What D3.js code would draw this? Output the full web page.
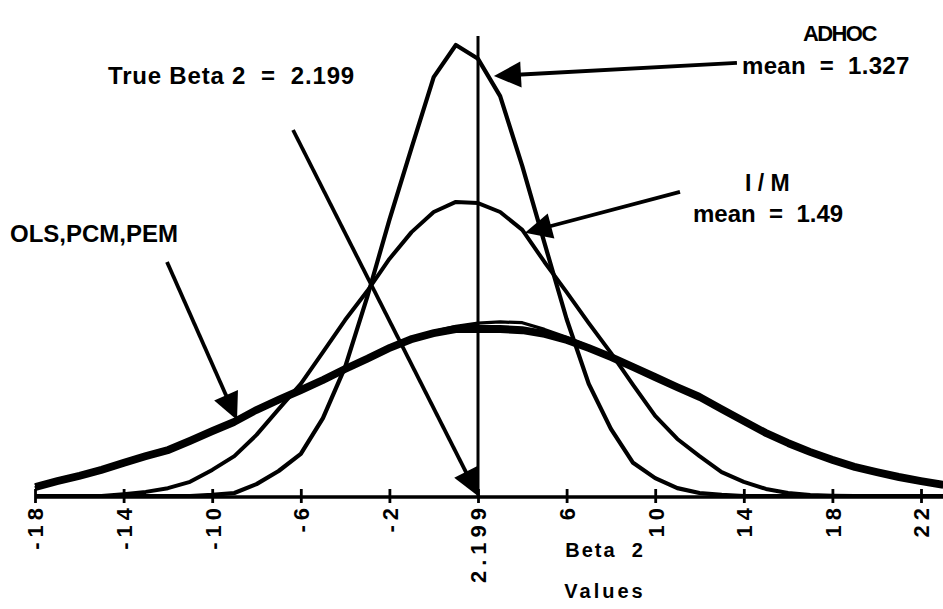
<!DOCTYPE html>
<html><head><meta charset="utf-8">
<script src="https://cdn.jsdelivr.net/npm/d3@7"></script>
<style>
html,body{margin:0;padding:0;background:#fff;}
svg{display:block;}
text{font-family:"Liberation Sans",Arial,Helvetica,sans-serif;font-weight:bold;fill:#000;white-space:pre;}
</style></head>
<body>
<svg id="chart" width="943" height="609"></svg>
<script>
// Beta 2 value categories (one per unit)
const categories = d3.range(-18, 24);
const tickValues = [-18, -14, -10, -6, -2, 2, 6, 10, 14, 18, 22];
const tickLabels = ["-18", "-14", "-10", "-6", "-2", "2.199", "6", "10", "14", "18", "22"];
const trueBeta = 2; // category labelled 2.199

// relative frequency for each category, -18 .. 23
const adhoc = [0,0,0,0,0,0,0,0,0.0003,0.0008,0.0032,0.0067,0.0113,0.0209,0.0346,0.0534,0.0741,0.0934,0.1124,0.1210,
  0.1173,0.1073,0.0885,0.0679,0.0475,0.0301,0.0180,0.0089,0.0048,0.0021,0.0008,0.0003,0,0,0,0,0,0,0,0,0,0];
const im = [0,0,0,0,0.0005,0.0011,0.0021,0.0038,0.0070,0.0107,0.0164,0.0233,0.0301,0.0386,0.0472,0.0550,0.0636,0.0708,0.0762,0.0789,
  0.0786,0.0762,0.0714,0.0628,0.0547,0.0464,0.0384,0.0298,0.0215,0.0153,0.0107,0.0064,0.0038,0.0019,0.0008,0.0003,0.0001,0,0,0,0,0];
const ols = [0.0028,0.0044,0.0058,0.0074,0.0093,0.0111,0.0127,0.0152,0.0178,0.0203,0.0235,0.0262,0.0288,0.0315,0.0345,0.0372,0.0401,0.0425,0.0441,0.0452,
  0.0452,0.0452,0.0449,0.0439,0.0423,0.0401,0.0377,0.0350,0.0323,0.0296,0.0270,0.0237,0.0205,0.0173,0.0146,0.0122,0.0101,0.0082,0.0068,0.0055,0.0044,0.0034];
const pem = [0.0020,0.0036,0.0050,0.0066,0.0085,0.0103,0.0119,0.0144,0.0170,0.0195,0.0227,0.0254,0.0280,0.0307,0.0337,0.0364,0.0393,0.0417,0.0433,0.0444,
  0.0444,0.0444,0.0441,0.0431,0.0415,0.0393,0.0369,0.0342,0.0315,0.0288,0.0262,0.0229,0.0197,0.0165,0.0138,0.0114,0.0093,0.0074,0.0060,0.0047,0.0036,0.0026];
const pcm = [0.0028,0.0044,0.0058,0.0074,0.0093,0.0111,0.0127,0.0152,0.0178,0.0203,0.0235,0.0262,0.0288,0.0315,0.0345,0.0372,0.0401,0.0425,0.0441,0.0455,
  0.0464,0.0467,0.0465,0.0447,0.0426,0.0401,0.0377,0.0350,0.0323,0.0296,0.0270,0.0237,0.0205,0.0173,0.0146,0.0122,0.0101,0.0082,0.0068,0.0055,0.0044,0.0034];

const svg = d3.select("#chart");
const x = d3.scaleLinear().domain([-18, 22]).range([35, 921]);
const y = d3.scaleLinear().domain([0, 0.12]).range([496, 496 - 0.12 * 3727]);

const line = d3.line().x(d => x(d[0])).y(d => y(d[1]));
function draw(vals, w) {
  svg.append("path")
    .datum(categories.map((c, i) => [c, vals[i]]))
    .attr("d", line).attr("fill", "none").attr("stroke", "#000")
    .attr("stroke-width", w).attr("stroke-linejoin", "round");
}

// axis
const axis = d3.axisBottom(x).tickValues(tickValues).tickSize(0).tickFormat((d, i) => tickLabels[i]);
const gx = svg.append("g").attr("transform", `translate(0,${y(0)})`).call(axis);
gx.select(".domain").remove();
svg.append("line").attr("x1", x(-18)).attr("x2", 943).attr("y1", y(0) + 1).attr("y2", y(0) + 1)
  .attr("stroke", "#000").attr("stroke-width", 3.4);
gx.selectAll(".tick").append("line").attr("y1", -7).attr("y2", 7).attr("stroke", "#000").attr("stroke-width", 2.8);
gx.selectAll(".tick text")
  .attr("transform", "rotate(-90)")
  .attr("x", -7).attr("y", 0).attr("dy", "0.36em")
  .attr("text-anchor", "end")
  .style("font-size", "22px").style("letter-spacing", "5px")
  .style("font-family", "'Liberation Sans',Arial,sans-serif").style("font-weight", "bold");

// true beta vertical line
svg.append("line").attr("x1", x(trueBeta)).attr("x2", x(trueBeta)).attr("y1", y(0)).attr("y2", y(0.1234))
  .attr("stroke", "#000").attr("stroke-width", 3);

// curves
draw(im, 4);
draw(adhoc, 4.2);
draw(pcm, 3.2);
draw(ols, 5);
draw(pem, 5);

// annotation arrows (data coordinates)
function arrow(x1, y1, x2, y2) {
  const ax = x(x1), ay = y(y1), bx = x(x2), by = y(y2);
  const dx = bx - ax, dy = by - ay, L = Math.hypot(dx, dy);
  const ux = dx / L, uy = dy / L, hl = 27, hw = 13;
  const baseX = bx - ux * hl, baseY = by - uy * hl;
  svg.append("line").attr("x1", ax).attr("y1", ay).attr("x2", baseX + ux * 4).attr("y2", baseY + uy * 4)
    .attr("stroke", "#000").attr("stroke-width", 3.8);
  svg.append("path").attr("d",
    `M${bx},${by}L${baseX - uy * hw},${baseY + ux * hw}L${baseX + uy * hw},${baseY - ux * hw}Z`).attr("fill", "#000");
}
arrow(13.69, 0.1162, 2.72, 0.1127);
arrow(11.12, 0.0816, 4.12, 0.0706);
arrow(-6.35, 0.0982, 2, 0);
arrow(-12.04, 0.0628, -8.88, 0.0204);

// labels
function label(t, px, py, size, ls, anchor) {
  svg.append("text").attr("x", px).attr("y", py).attr("text-anchor", anchor || "start")
    .style("font-size", size + "px").style("letter-spacing", ls + "px").text(t);
}
label("ADHOC", 803, 41, 22, -1.6);
label("mean  =  1.327", 742, 74, 24, 0.3);
label("I / M", 745, 191, 23, 0);
label("mean  =  1.49", 693, 222, 24, 0);
label("True Beta 2  =  2.199", 108, 84, 24, 0.8);
label("OLS,PCM,PEM", 10, 242, 24, 0);
label("Beta  2", 605, 557, 20, 2, "middle");
label("Values", 605, 598, 20, 3, "middle");
</script>
</body></html>
